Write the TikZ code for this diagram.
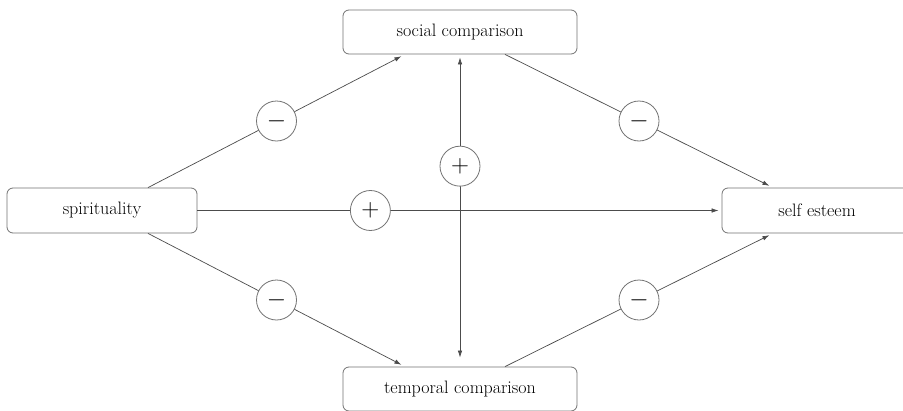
\documentclass[tikz,border=0pt]{standalone}
\usetikzlibrary{arrows.meta}
\begin{document}
\begin{tikzpicture}[x=1pt,y=-1pt,
  box/.style={draw=black!55, line width=0.8pt, rounded corners=6pt, fill=white,
    inner sep=0pt, font=\fontsize{18}{21}\selectfont},
  sidebox/.style={box, minimum width=190pt, minimum height=45pt},
  midbox/.style={box, minimum width=234pt, minimum height=44pt},
  sign/.style={circle, draw=black!55, line width=0.8pt, fill=white, minimum size=40pt,
    inner sep=0pt, font=\fontsize{23}{25}\selectfont},
  conn/.style={draw=black!70, line width=0.7pt},
  arr/.style={conn, -{Latex[length=7pt,width=4.5pt]}, shorten >=4pt},
  darr/.style={conn, {Latex[length=7pt,width=4.5pt]}-{Latex[length=7pt,width=4.5pt]}}
]
\clip (0,0) rectangle (903,410);
\fill[white] (0,0) rectangle (903,410);

\node[midbox] (sc) at (460,32) {social comparison};
\node[midbox] (tc) at (460,389) {temporal comparison};
\node[sidebox] (sp) at (102,210.5) {spirituality};
\node[sidebox] (se) at (817,210.5) {self esteem};

% spirituality -> self esteem
\draw[arr, shorten >=3pt] (sp.east) -- (se.west) node[sign, pos=0.33] (c5) {$+$};
% social <-> temporal
\draw[darr, shorten <=3pt, shorten >=9pt] (sc.south) -- (tc.north) node[sign, pos=0.358] (c6) {$+$};

% spirituality -> social comparison
\draw[arr] ([xshift=46pt]sp.north) -- ([xshift=-55pt]sc.south) node[sign, midway] (c1) {$-$};
% social comparison -> self esteem
\draw[arr] ([xshift=45pt]sc.south) -- ([xshift=-44pt]se.north) node[sign, midway] (c2) {$-$};
% spirituality -> temporal comparison
\draw[arr] ([xshift=46pt]sp.south) -- ([xshift=-55pt]tc.north) node[sign, midway] (c3) {$-$};
% temporal comparison -> self esteem
\draw[arr] ([xshift=45pt]tc.north) -- ([xshift=-44pt]se.south) node[sign, midway] (c4) {$-$};
\end{tikzpicture}
\end{document}
